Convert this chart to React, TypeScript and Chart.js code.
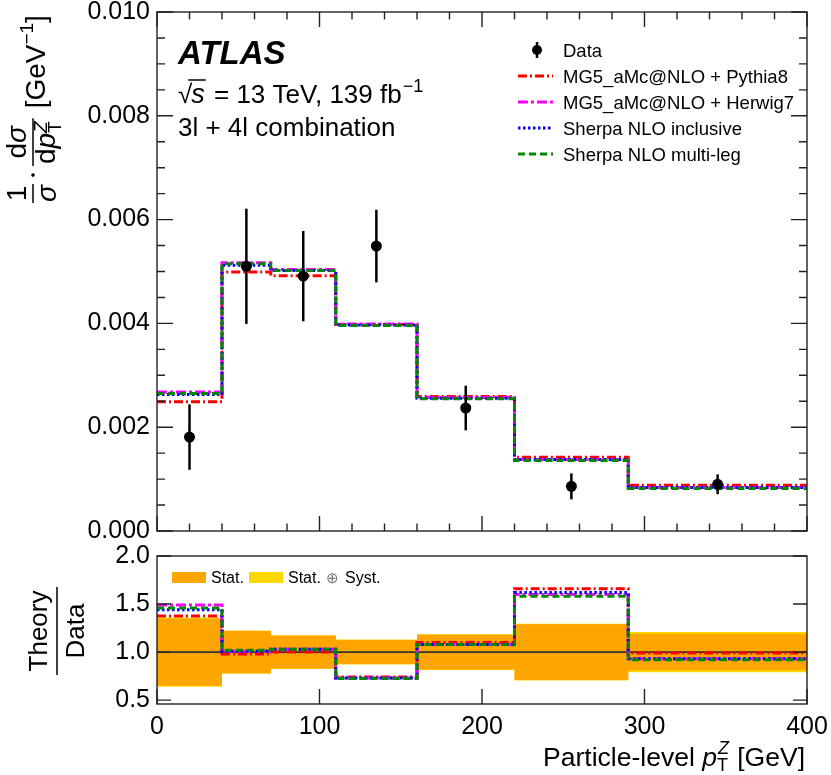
import { useEffect, useRef } from "react";
import { Chart, registerables } from "chart.js";

Chart.register(...registerables);

const FONT = "'Liberation Sans', Arimo, Arial, sans-serif";
const INK = "#222";
const ORANGE = "#ffa500";
const YELLOW = "#ffd700";
const BOT_TOP = 525; // page y of the ratio canvas

// bins of particle-level pT(Z) in GeV
const binEdges = [0, 40, 70, 110, 160, 220, 290, 400];
const binCentres = [20, 55, 90, 135, 190, 255, 345];

// measured normalised cross section and its uncertainty
const dataValues = [0.00181, 0.0051, 0.00491, 0.00549, 0.00237, 0.00086, 0.0009];
const dataErrors = [0.00063, 0.00111, 0.00087, 0.0007, 0.00043, 0.00025, 0.00019];

// predictions
const mgPythia8 = [0.00249, 0.00499, 0.00492, 0.00398, 0.00259, 0.00142, 0.00088];
const mgHerwig7 = [0.00268, 0.00517, 0.00504, 0.00399, 0.00257, 0.00138, 0.00084];
const sherpaIncl = [0.00263, 0.00512, 0.00502, 0.00397, 0.00256, 0.00138, 0.00084];
const sherpaMulti = [0.00265, 0.00515, 0.00502, 0.00396, 0.00255, 0.00136, 0.00082];

// theory / data
const ratioMgPythia8 = [1.375, 0.98, 1.0, 0.74, 1.1, 1.66, 0.99];
const ratioMgHerwig7 = [1.49, 1.01, 1.03, 0.73, 1.08, 1.6, 0.93];
const ratioSherpaIncl = [1.44, 1.01, 1.03, 0.73, 1.08, 1.62, 0.93];
const ratioSherpaMulti = [1.46, 1.02, 1.03, 0.726, 1.08, 1.58, 0.92];

// relative data uncertainty in the ratio panel
const statRel = [0.35, 0.22, 0.17, 0.125, 0.18, 0.29, 0.19];
const totalRel = [0.36, 0.225, 0.175, 0.13, 0.185, 0.295, 0.21];

const xTicks = [0, 100, 200, 300, 400];
const yTicksMain = [0, 0.002, 0.004, 0.006, 0.008, 0.01];
const yTicksRatio = [0.5, 1.0, 1.5, 2.0];

const models = [
  { name: "MG5_aMc@NLO + Pythia8", color: "#ff0000", dash: [9, 3, 2, 3], main: mgPythia8, ratio: ratioMgPythia8 },
  { name: "MG5_aMc@NLO + Herwig7", color: "#ff00ff", dash: [10, 3, 3, 3], main: mgHerwig7, ratio: ratioMgHerwig7 },
  { name: "Sherpa NLO inclusive", color: "#0000ff", dash: [2.5, 2.5], main: sherpaIncl, ratio: ratioSherpaIncl },
  { name: "Sherpa NLO multi-leg", color: "#008800", dash: [7, 4], main: sherpaMulti, ratio: ratioSherpaMulti },
];

const hist = (vals: number[]) =>
  binEdges.map((x, i) => ({ x, y: vals[Math.min(i, vals.length - 1)] }));

function seq(from: number, to: number, step: number) {
  const out: number[] = [];
  const n = Math.round((to - from) / step);
  for (let i = 0; i <= n; i++) out.push(from + i * step);
  return out;
}

function put(ctx: any, text: string, x: number, y: number, font: string, align: CanvasTextAlign = "left", color = "#000") {
  ctx.font = font;
  ctx.fillStyle = color;
  ctx.textAlign = align;
  ctx.fillText(text, x, y);
  return ctx.measureText(text).width;
}

function width(ctx: any, text: string, font: string) {
  ctx.font = font;
  return ctx.measureText(text).width;
}

function line(ctx: any, x1: number, y1: number, x2: number, y2: number) {
  ctx.beginPath();
  ctx.moveTo(x1, y1);
  ctx.lineTo(x2, y2);
  ctx.stroke();
}

const modelLines = (key: "main" | "ratio") =>
  models
    .slice()
    .reverse()
    .map((m) => ({
      type: "line",
      data: hist(m[key]),
      borderColor: m.color,
      borderDash: m.dash,
      borderWidth: 3,
      stepped: "before",
      pointRadius: 0,
      fill: false,
    }));

function framePlugin(spec: any) {
  return {
    id: "frame",
    afterDraw(chart: any) {
      const { ctx, chartArea: a, scales } = chart;
      const xs = scales.x;
      const ys = scales.y;
      ctx.save();
      ctx.strokeStyle = INK;
      ctx.lineWidth = 1.4;
      ctx.setLineDash([]);
      ctx.beginPath();
      const xt = (vals: number[], len: number) =>
        vals.forEach((v) => {
          const p = xs.getPixelForValue(v);
          ctx.moveTo(p, a.bottom);
          ctx.lineTo(p, a.bottom - len);
          if (spec.xTop) {
            ctx.moveTo(p, a.top);
            ctx.lineTo(p, a.top + len);
          }
        });
      const yt = (vals: number[], len: number) =>
        vals.forEach((v) => {
          const p = ys.getPixelForValue(v);
          ctx.moveTo(a.left, p);
          ctx.lineTo(a.left + len, p);
          ctx.moveTo(a.right, p);
          ctx.lineTo(a.right - len, p);
        });
      xt(spec.xMinor, spec.xMinorLen);
      xt(spec.xMajor, spec.xLen);
      yt(spec.yMinor, spec.yMinorLen);
      yt(spec.yMajor, spec.yLen);
      ctx.stroke();
      ctx.strokeRect(a.left, a.top, a.right - a.left, a.bottom - a.top);
      ctx.restore();
    },
  };
}

const errorBars = {
  id: "errorBars",
  afterDatasetsDraw(chart: any) {
    const { ctx, scales } = chart;
    ctx.save();
    ctx.strokeStyle = "#000";
    ctx.lineWidth = 2.5;
    binCentres.forEach((x, i) => {
      const px = scales.x.getPixelForValue(x);
      line(
        ctx,
        px,
        scales.y.getPixelForValue(dataValues[i] - dataErrors[i]),
        px,
        scales.y.getPixelForValue(dataValues[i] + dataErrors[i])
      );
    });
    ctx.restore();
  },
};

const mainLabels = {
  id: "mainLabels",
  afterDraw(chart: any) {
    const ctx = chart.ctx;
    ctx.save();
    ctx.textBaseline = "alphabetic";
    ctx.strokeStyle = "#000";

    // ATLAS block
    put(ctx, "ATLAS", 178, 64, `italic bold 33px ${FONT}`);
    const f26 = `26px ${FONT}`;
    let x = 178;
    const wr = put(ctx, "√", x, 103, f26);
    x += wr - 1;
    const ws = put(ctx, "s", x, 103, `italic 27px ${FONT}`);
    ctx.lineWidth = 1.5;
    line(ctx, x - 3, 80, x + ws + 1, 80);
    x += ws + 2;
    x += put(ctx, " = 13 TeV, 139 fb", x, 103, f26);
    put(ctx, "−1", x + 1, 92, `18px ${FONT}`);
    put(ctx, "3l + 4l combination", 178, 136, f26);

    // legend
    const lf = `18.5px ${FONT}`;
    const rows = [50, 76, 102, 128, 154];
    ctx.lineWidth = 2.5;
    line(ctx, 537, 42, 537, 58);
    ctx.fillStyle = "#000";
    ctx.beginPath();
    ctx.arc(537, 50, 5, 0, Math.PI * 2);
    ctx.fill();
    put(ctx, "Data", 563, rows[0] + 7, lf);
    models.forEach((m, i) => {
      const y = rows[i + 1];
      ctx.strokeStyle = m.color;
      ctx.lineWidth = 3;
      ctx.setLineDash(m.dash);
      line(ctx, 518, y, 553, y);
      ctx.setLineDash([]);
      put(ctx, m.name, 563, y + 7, lf);
    });

    // rotated y title: 1/sigma . dsigma/dpT^Z [GeV^-1]
    ctx.rotate(-Math.PI / 2);
    ctx.fillStyle = "#000";
    ctx.strokeStyle = "#000";
    ctx.lineWidth = 1.5;
    const f = `28px ${FONT}`;
    const fi = `italic 28px ${FONT}`;
    const fs = `19px ${FONT}`;
    const fsi = `italic 19px ${FONT}`;
    let y = 203;
    const w1 = Math.max(width(ctx, "1", f), width(ctx, "σ", fi)) + 2;
    put(ctx, "1", -(y - w1 / 2), 26, f, "center");
    put(ctx, "σ", -(y - w1 / 2), 56, fi, "center");
    line(ctx, -y, 33, -(y - w1), 33);
    y -= w1 + 9;
    ctx.beginPath();
    ctx.arc(-y, 33, 1.8, 0, Math.PI * 2);
    ctx.fill();
    y -= 9;
    const wd = width(ctx, "d", f);
    const wsg = width(ctx, "σ", fi);
    const wp = width(ctx, "p", fi);
    const wsub = Math.max(width(ctx, "T", fs), width(ctx, "Z", fsi));
    const wNum = wd + wsg;
    const wDen = wd + wp + wsub + 1;
    const w2 = Math.max(wNum, wDen) + 4;
    let s = y - (w2 - wNum) / 2;
    put(ctx, "d", -s, 26, f);
    put(ctx, "σ", -(s - wd), 26, fi);
    s = y - (w2 - wDen) / 2;
    put(ctx, "d", -s, 55, f);
    put(ctx, "p", -(s - wd), 55, fi);
    put(ctx, "T", -(s - wd - wp), 61, fs);
    put(ctx, "Z", -(s - wd - wp), 47, fsi);
    line(ctx, -y, 33, -(y - w2), 33);
    y -= w2 + 10;
    y -= put(ctx, "[GeV", -y, 45, f);
    y -= put(ctx, "−1", -y, 33, fs);
    put(ctx, "]", -y, 45, f);
    ctx.restore();
  },
};

const ratioLabels = {
  id: "ratioLabels",
  afterDraw(chart: any) {
    const ctx = chart.ctx;
    ctx.save();
    ctx.translate(0, -BOT_TOP);
    ctx.textBaseline = "alphabetic";

    // band legend
    const lf = `16px ${FONT}`;
    ctx.fillStyle = ORANGE;
    ctx.fillRect(172, 572, 34, 11);
    put(ctx, "Stat.", 211, 583, lf);
    ctx.fillStyle = YELLOW;
    ctx.fillRect(249, 572, 34, 11);
    put(ctx, "Stat.", 288, 583, lf);
    put(ctx, "⊕", 326, 583, `15px ${FONT}`, "left", "#777");
    put(ctx, "Syst.", 345, 583, lf);

    // x title
    const f = `26.5px ${FONT}`;
    const fi = `italic 26.5px ${FONT}`;
    const fs = `18px ${FONT}`;
    const fsi = `italic 18px ${FONT}`;
    const wA = width(ctx, "Particle-level ", f);
    const wp = width(ctx, "p", fi);
    const wsub = Math.max(width(ctx, "T", fs), width(ctx, "Z", fsi)) + 2;
    const wB = width(ctx, " [GeV]", f);
    let x = 805 - (wA + wp + wsub + wB);
    const base = 766;
    x += put(ctx, "Particle-level ", x, base, f);
    x += put(ctx, "p", x, base, fi);
    put(ctx, "T", x, base + 5, fs);
    put(ctx, "Z", x + 1, base - 12, fsi);
    x += wsub;
    put(ctx, " [GeV]", x, base, f);

    // rotated y title: Theory / Data
    ctx.rotate(-Math.PI / 2);
    const ft = `26px ${FONT}`;
    put(ctx, "Theory", -631, 47, ft, "center");
    put(ctx, "Data", -631, 84, ft, "center");
    ctx.strokeStyle = "#000";
    ctx.lineWidth = 1.5;
    line(ctx, -587, 57, -675, 57);
    ctx.restore();
  },
};

const tickFont = { family: FONT, size: 25 };

function yAxis(min: number, max: number, ticks: number[], digits: number) {
  return {
    type: "linear",
    min,
    max,
    afterBuildTicks: (s: any) => {
      s.ticks = ticks.map((value) => ({ value }));
    },
    afterFit: (s: any) => {
      s.width = 157;
      s.paddingTop = 0;
      s.paddingBottom = 0;
    },
    grid: { display: false, drawTicks: false },
    border: { display: false },
    ticks: {
      autoSkip: false,
      font: tickFont,
      color: "#000",
      padding: 7,
      callback: (v: any) => Number(v).toFixed(digits),
    },
  };
}

export default function App() {
  const mainRef = useRef<HTMLCanvasElement>(null);
  const ratioRef = useRef<HTMLCanvasElement>(null);

  useEffect(() => {
    if (!mainRef.current || !ratioRef.current) return;
    Chart.defaults.font.family = FONT;

    const mainChart = new Chart(mainRef.current, {
      type: "line",
      data: {
        datasets: [
          {
            type: "line",
            data: binCentres.map((x, i) => ({ x, y: dataValues[i] })),
            showLine: false,
            pointRadius: 5.5,
            pointBackgroundColor: "#000",
            pointBorderWidth: 0,
          },
          ...modelLines("main"),
        ] as any,
      },
      options: {
        animation: false,
        responsive: false,
        events: [],
        layout: { padding: { top: 12, right: 24, bottom: 14, left: 0 } },
        plugins: { legend: { display: false }, tooltip: { enabled: false } },
        scales: {
          x: { type: "linear", min: 0, max: 400, display: false },
          y: yAxis(0, 0.01, yTicksMain, 3),
        } as any,
      },
      plugins: [
        errorBars,
        framePlugin({
          xMajor: xTicks,
          xMinor: seq(0, 400, 20),
          xLen: 15,
          xMinorLen: 7.5,
          xTop: true,
          yMajor: yTicksMain,
          yMinor: seq(0, 0.01, 0.0005),
          yLen: 16,
          yMinorLen: 8,
        }),
        mainLabels,
      ],
    });

    const ratioChart = new Chart(ratioRef.current, {
      type: "line",
      data: {
        datasets: [
          ...modelLines("ratio"),
          {
            type: "line",
            data: [
              { x: 0, y: 1 },
              { x: 400, y: 1 },
            ],
            borderColor: "#333",
            borderWidth: 1.6,
            pointRadius: 0,
            fill: false,
          },
          {
            type: "line",
            data: hist(statRel.map((r) => 1 + r)),
            stepped: "before",
            borderWidth: 0,
            borderColor: "transparent",
            pointRadius: 0,
            fill: "+1",
            backgroundColor: ORANGE,
          },
          {
            type: "line",
            data: hist(statRel.map((r) => 1 - r)),
            stepped: "before",
            borderWidth: 0,
            borderColor: "transparent",
            pointRadius: 0,
            fill: false,
          },
          {
            type: "line",
            data: hist(totalRel.map((r) => 1 + r)),
            stepped: "before",
            borderWidth: 0,
            borderColor: "transparent",
            pointRadius: 0,
            fill: "+1",
            backgroundColor: YELLOW,
          },
          {
            type: "line",
            data: hist(totalRel.map((r) => 1 - r)),
            stepped: "before",
            borderWidth: 0,
            borderColor: "transparent",
            pointRadius: 0,
            fill: false,
          },
        ] as any,
      },
      options: {
        animation: false,
        responsive: false,
        events: [],
        layout: { padding: { top: 31, right: 24, bottom: 0, left: 0 } },
        plugins: { legend: { display: false }, tooltip: { enabled: false } },
        scales: {
          x: {
            type: "linear",
            min: 0,
            max: 400,
            afterBuildTicks: (s: any) => {
              s.ticks = xTicks.map((value) => ({ value }));
            },
            afterFit: (s: any) => {
              s.height = 71;
              s.paddingLeft = 0;
              s.paddingRight = 0;
            },
            grid: { display: false, drawTicks: false },
            border: { display: false },
            ticks: {
              autoSkip: false,
              maxRotation: 0,
              font: tickFont,
              color: "#000",
              padding: 8,
              callback: (v: any) => String(v),
            },
          },
          y: yAxis(0.46, 2.0, yTicksRatio, 1),
        } as any,
      },
      plugins: [
        framePlugin({
          xMajor: xTicks,
          xMinor: [],
          xLen: 15,
          xMinorLen: 0,
          xTop: false,
          yMajor: yTicksRatio,
          yMinor: [],
          yLen: 14,
          yMinorLen: 0,
        }),
        ratioLabels,
      ],
    });

    return () => {
      mainChart.destroy();
      ratioChart.destroy();
    };
  }, []);

  return (
    <div style={{ position: "fixed", left: 0, top: 0, width: 831, height: 775, background: "#fff" }}>
      <canvas
        ref={mainRef}
        width={831}
        height={545}
        style={{ position: "absolute", left: 0, top: 0, width: 831, height: 545 }}
      />
      <canvas
        ref={ratioRef}
        width={831}
        height={250}
        style={{ position: "absolute", left: 0, top: BOT_TOP, width: 831, height: 250 }}
      />
    </div>
  );
}
